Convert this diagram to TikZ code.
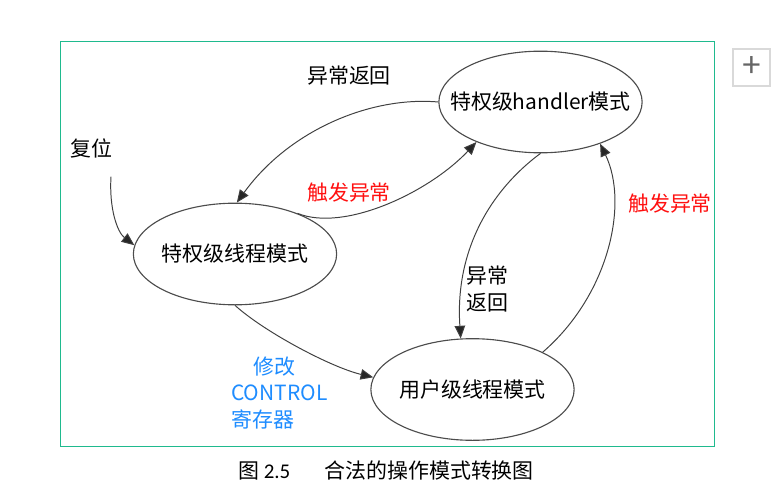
\documentclass[tikz,border=0pt]{standalone}
\usepackage{fontspec}
\setmainfont{Noto Sans CJK SC}
\newfontfamily\numfont{Carlito}
\usetikzlibrary{arrows.meta,shapes.geometric}
\definecolor{framegreen}{HTML}{1FBA8E}
\definecolor{ctrlblue}{HTML}{1E8CFF}
\definecolor{trigred}{HTML}{FF1010}

\begin{document}
\begin{tikzpicture}[x=0.025cm, y=0.025cm, >={Triangle[length=9pt,width=7.5pt,fill=black!85]},
  every node/.style={font=\fontsize{14.9}{19}\selectfont},
  mode/.style={ellipse, draw=black!70, line width=0.8pt, minimum width=5.08cm, minimum height=2.54cm},
  link/.style={->, draw=black!75, line width=0.7pt}]
  \useasboundingbox (0,0) rectangle (780,495);
  \draw[framegreen, line width=0.7pt] (60,49) rectangle (714,454);

  % the three modes
  \node[mode] (thread) at (235,241) {};
  \node[mode] (handler) at (540.5,393) {};
  \node[mode] (user) at (472.5,105.5) {};
  \node (threadtext) at (thread) {特权级线程模式};
  \node (handlertext) at (handler) {特权级handler模式};
  \node (usertext) at (user) {用户级线程模式};

  % labels
  \node (reset) at (91,347) {复位};
  \node (retA) at (349,419) {异常返回};
  \node[trigred] (trigA) at (349,302) {触发异常};
  \node[trigred] (trigB) at (670,291) {触发异常};
  \node[align=left] (retB) at (487,206) {异常\\返回};
  \node[ctrlblue, anchor=west, align=left, inner sep=0] (ctrl) at (231,102)
    {\hspace*{0.55cm}修改\\CONTROL\\寄存器};

  \draw[link] ([shift={(20,-14)}]reset.south) .. controls +(-2,-32) and +(-17,13) .. (thread.175);
  \draw[link] (handler.west) .. controls +(-68,6) and +(52,72) .. (thread.88);
  \draw[link] (thread.33) .. controls +(47,-19) and +(-47,-50) .. (handler.-148);
  \draw[link] (handler.south) .. controls +(-50,-37) and +(-6,88) .. (user.103);
  \draw[link] (user.28) .. controls +(66,57) and +(29,-60) .. (handler.-35);
  \draw[link] (thread.south) .. controls +(30,-27) and +(-42,10) .. (user.173);

  \node (caption) at (386,24) {图~{\numfont 2.5}\hspace{0.85cm}合法的操作模式转换图};
  \node[draw=black!15, line width=0.8pt, minimum width=0.925cm, minimum height=0.925cm,
    inner sep=0, text=black!60, font=\fontsize{24}{24}\selectfont] (plusbtn) at (751.5,427.5) {+};
\end{tikzpicture}
\end{document}
